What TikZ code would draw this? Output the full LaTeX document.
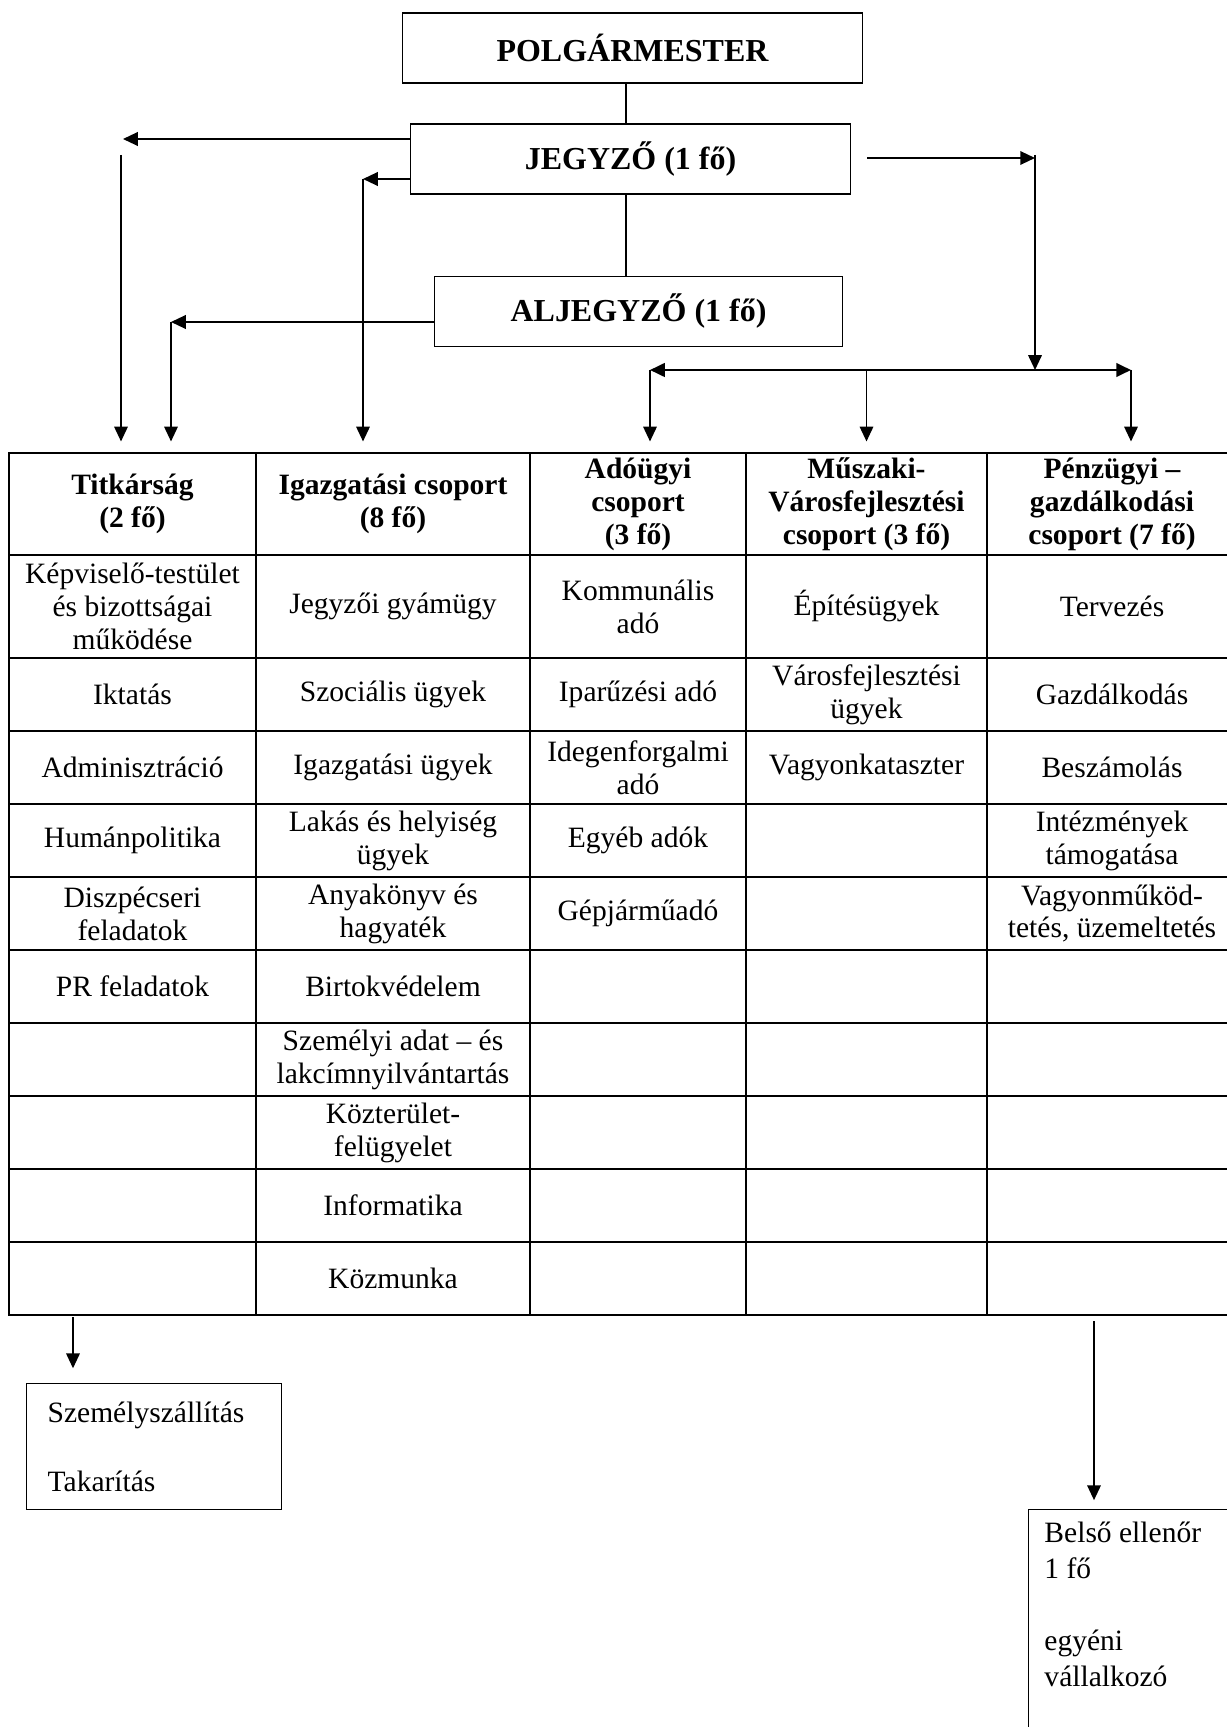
\documentclass[tikz,border=0pt]{standalone}
\usepackage{fontspec}
\setmainfont{Liberation Serif}
\usetikzlibrary{arrows.meta,positioning}

\newcommand{\pxu}{0.4065pt}

\begin{document}
\begin{tikzpicture}[x=\pxu, y=-\pxu,
  >={Triangle[length=6pt,width=5.5pt]},
  doboz/.style={draw, line width=0.6pt, minimum height=70*\pxu, font=\fontsize{13}{15}\selectfont\bfseries},
  fejlec/.style={align=center, inner ysep=0pt, minimum height=102*\pxu, font=\fontsize{12}{13.4}\selectfont\bfseries},
  cella/.style={align=center, font=\fontsize{12}{13.4}\selectfont},
  keret/.style={draw, line width=0.6pt, align=left, font=\fontsize{12}{14.2}\selectfont},
  vonal/.style={line width=0.6pt},
  nyil/.style={->, line width=0.6pt},
  vastag/.style={->, line width=0.75pt},
  tablaba/.style={nyil, shorten >=4.5pt}]

\useasboundingbox (0,0) rectangle (1227,1727);
\clip (0,0) rectangle (1227,1727);

% vezetes
\node[doboz, minimum width=460*\pxu] (polg) at (632.5,48) {POLGÁRMESTER};
\node[doboz, minimum width=440*\pxu] (jegyzo) at (630.5,159) {JEGYZŐ (1 fő)};
\node[doboz, minimum width=408*\pxu] (aljegyzo) at (638.5,311.5) {ALJEGYZŐ (1 fő)};

% csoportok fejlece
\node[fejlec] (titk) at (132.5,504) {Titkárság\\(2 fő)};
\node[fejlec] (igaz) at (393,504) {Igazgatási csoport\\(8 fő)};
\node[fejlec] (ado) at (638,504) {Adóügyi\\csoport\\(3 fő)};
\node[fejlec] (musz) at (866.5,504) {Műszaki-\\Városfejlesztési\\csoport (3 fő)};
\node[fejlec] (penz) at (1112,504) {Pénzügyi –\\gazdálkodási\\csoport (7 fő)};

% racsvonalak
\foreach \y in {453,555,658,731,804,877,950,1023,1096,1169,1242,1315}
  \draw[line width=0.8pt] (8,\y) -- (1240,\y);
\foreach \x in {9,256,530,746,987}
  \draw[vonal] (\x,453) -- (\x,1315);

% feladatok oszloponkent
\foreach \y/\szoveg [count=\i] in {606.5/{Képviselő-testület\\és bizottságai\\működése}, 694.5/Iktatás,
    767.5/Adminisztráció, 840.5/Humánpolitika, 913.5/{Diszpécseri\\feladatok}, 986.5/PR feladatok}
  \node[cella] (titk-\i) at (132.5,\y) {\szoveg};
\foreach \y/\szoveg [count=\i] in {606.5/Jegyzői gyámügy, 694.5/Szociális ügyek, 767.5/Igazgatási ügyek,
    840.5/{Lakás és helyiség\\ügyek}, 913.5/{Anyakönyv és\\hagyaték}, 986.5/Birtokvédelem,
    1059.5/{Személyi adat – és\\lakcímnyilvántartás}, 1132.5/{Közterület-\\felügyelet},
    1205.5/Informatika, 1278.5/Közmunka}
  \node[cella] (igaz-\i) at (393,\y) {\szoveg};
\foreach \y/\szoveg [count=\i] in {606.5/{Kommunális\\adó}, 694.5/Iparűzési adó,
    767.5/{Idegenforgalmi\\adó}, 840.5/Egyéb adók, 913.5/Gépjárműadó}
  \node[cella] (ado-\i) at (638,\y) {\szoveg};
\foreach \y/\szoveg [count=\i] in {606.5/Építésügyek, 694.5/{Városfejlesztési\\ügyek}, 767.5/Vagyonkataszter}
  \node[cella] (musz-\i) at (866.5,\y) {\szoveg};
\foreach \y/\szoveg [count=\i] in {606.5/Tervezés, 694.5/Gazdálkodás, 767.5/Beszámolás,
    840.5/{Intézmények\\támogatása}, 913.5/{Vagyonműköd-\\tetés, üzemeltetés}}
  \node[cella] (penz-\i) at (1112,\y) {\szoveg};

% tablazat alatti dobozok
\node[keret, anchor=north west, text width=86.5pt, inner xsep=8.5pt, minimum height=126*\pxu]
  (szemely) at (26,1383) {Személyszállítás\\[14pt]Takarítás};
\node[draw, line width=0.6pt, anchor=north west, minimum width=230*\pxu, minimum height=260*\pxu]
  (belso) at (1028,1509) {};
\node[below right=5pt and 6.5pt of belso.north west, align=left, inner sep=0pt,
  font=\fontsize{12}{14.6}\selectfont] (belsoSzoveg) {Belső ellenőr\\1 fő\\[14.6pt]egyéni\\vállalkozó};

% elagazasi pontok
\coordinate (torzs) at (626,0);
\coordinate (jegyBal) at (123,139);
\coordinate (titkFelso) at (121,155);
\coordinate (igazSarok) at (363,179);
\coordinate (aljBal) at (171,322);
\coordinate (jobbSarok) at (1035,158);
\coordinate (jobbFelso) at (1035,155);
\coordinate (elosztoBal) at (650,370);
\coordinate (elosztoKozep) at (866.5,370);
\coordinate (elosztoJobb) at (1131,370);
\coordinate (szallFelso) at (73,1317);
\coordinate (belsoFelso) at (1094,1321);

% iranyitasi vonalak
\draw[vonal] (torzs |- polg.south) -- (torzs |- jegyzo.north);
\draw[vonal] (torzs |- jegyzo.south) -- (torzs |- aljegyzo.north);
\draw[vastag] (jegyzo.west |- jegyBal) -- (jegyBal);
\draw[tablaba] (titkFelso) -- (titkFelso |- titk.north);
\draw[vastag] (jegyzo.west |- igazSarok) -- (igazSarok);
\draw[tablaba] (igazSarok) -- (igazSarok |- igaz.north);
\draw[vastag] (aljegyzo.west |- aljBal) -- (aljBal);
\draw[tablaba] (aljBal) -- (aljBal |- titk.north);
\draw[vastag, shorten <=6.5pt] (jegyzo.east |- jobbSarok) -- (jobbSarok);
\draw[nyil] (jobbFelso) -- (jobbFelso |- elosztoJobb);
\draw[<->, line width=1pt] (elosztoBal) -- (elosztoJobb);
\foreach \p/\cel in {elosztoBal/ado, elosztoKozep/musz, elosztoJobb/penz}
  \draw[tablaba] (\p) -- (\p |- \cel.north);
\draw[nyil, shorten >=6pt] (szallFelso) -- (szallFelso |- szemely.north);
\draw[nyil, shorten >=3.6pt] (belsoFelso) -- (belsoFelso |- belso.north);
\end{tikzpicture}
\end{document}
